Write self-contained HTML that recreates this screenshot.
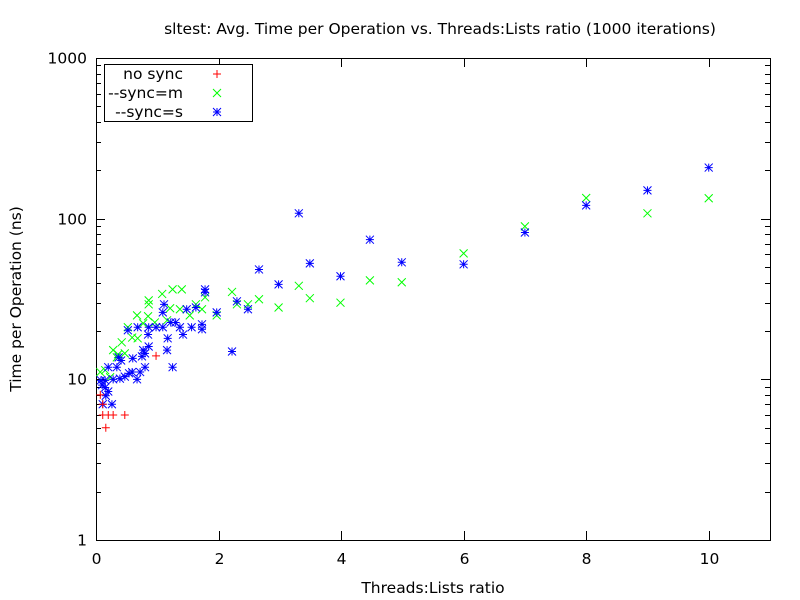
<!DOCTYPE html>
<html><head><meta charset="utf-8"><style>
html,body{margin:0;padding:0;background:#fff;}
svg{display:block;font-family:"DejaVu Sans","Liberation Sans",sans-serif;}
</style></head><body>
<svg id="chart" width="800" height="600" viewBox="0 0 800 600" xmlns="http://www.w3.org/2000/svg">
<rect x="0" y="0" width="800" height="600" fill="#fff"/>
<text x="440" y="34" font-size="15.5" text-anchor="middle">sltest: Avg. Time per Operation vs. Threads:Lists ratio (1000 iterations)</text>
<text x="433" y="593" font-size="15.5" text-anchor="middle">Threads:Lists ratio</text>
<text transform="translate(21,299) rotate(-90)" font-size="15.5" text-anchor="middle">Time per Operation (ns)</text>
<g id="axes"></g>
<g id="marks"></g>
<g id="legend">
<rect x="104.5" y="64.5" width="148" height="57" fill="#fff" stroke="#000" stroke-width="1"/>
<text x="183" y="79" font-size="15.5" text-anchor="end">no sync</text>
<text x="183" y="98" font-size="15.5" text-anchor="end">--sync=m</text>
<text x="183" y="117" font-size="15.5" text-anchor="end">--sync=s</text>
</g>
</svg>
<script>
const xTicks = [0, 2, 4, 6, 8, 10];
const yTicks = [1, 10, 100, 1000];
const seriesNames = ["no sync", "--sync=m", "--sync=s"];
const noSyncX = [0.07,0.11,0.11,0.2,0.28,0.47,0.16,0.98];
const noSyncY = [8,7,6,6,6,6,5,14];
const syncMX = [1.25,1.4,0.86,0.86,1.08,1.63,1.78,2.22,2.3,1.21,1.37,1.73,1.97,0.67,0.85,1.16,0.96,1.53,0.52,0.77,0.59,0.68,0.42,0.28,0.36,0.47,0.07,0.23,0.34,0.15,2.48,2.66,2.98,3.31,3.49,3.99,4.47,4.99,6,7,8,9,10];
const syncMY = [36.3,36.3,31,29.3,34,29.3,32.4,35,29.3,27.7,27.3,27.3,25,25,24.7,23.3,22.6,25,21.1,22.3,18.2,18,17,15.2,14.3,14.5,11.1,10.3,13.7,11.4,29.3,31.5,28,38.2,32,30,41.3,40.2,60.8,89.5,134.5,108,134];
const syncSX = [3.31,4.47,2.66,2.98,3.49,3.99,4.99,6,7,8,9,10,1.78,1.97,2.3,2.48,2.22,1.73,1.78,1.11,1.09,1.48,1.63,1.22,1.3,1.37,1.42,1.56,1.73,0.52,0.68,0.86,0.98,1.09,0.85,1.17,0.86,1.16,1.25,0.77,0.8,0.75,0.6,0.41,0.37,0.34,0.2,0.8,0.72,0.59,0.54,0.47,0.39,0.28,0.15,0.08,0.67,0.1,0.15,0.2,0.16,0.11,0.26];
const syncSY = [108,74,48.3,39,52.7,43.8,53.5,52,82,121,150,208,34.8,26.1,30.6,27.3,14.9,20.5,36.3,29.3,26.1,27.3,28,22.6,22.6,21.1,19,21.1,22,20.2,21.1,21.1,21.1,21.1,19,18,16,15.2,11.9,15.2,14.5,13.9,13.5,13.1,13.7,11.9,11.9,11.9,11.1,11.1,10.9,10.4,10.1,10,9.86,9.86,10,9.2,8.9,8.4,7.9,7,7];

const L=96, R=770, T=58, B=540, XMAX=11;
const sx = v => L + v/XMAX*(R-L);
const sy = v => B - Math.log10(v)/3*(B-T);
const NS="http://www.w3.org/2000/svg";
function mk(tag, attrs, parent){const e=document.createElementNS(NS,tag);for(const k in attrs)e.setAttribute(k,attrs[k]);parent.appendChild(e);return e;}
const axes=document.getElementById('axes');
const frame=mk('rect',{x:L+0.5,y:T+0.5,width:R-L,height:B-T,fill:'none',stroke:'#000','stroke-width':1},axes);


xTicks.forEach(t=>{
  const x=Math.round(sx(t))+0.5;
  const l=mk('path',{d:`M${x},${B}v-9M${x},${T}v9`,stroke:'#000','stroke-width':1},axes);
  
  
  const tx=mk('text',{x:x,y:B+24,'font-size':15.5,'text-anchor':'middle'},axes);
  tx.textContent=t;
  
  
});
yTicks.forEach((t,i)=>{
  const y=Math.round(sy(t))+0.5;
  const l=mk('path',{d:`M${L},${y}h9M${R},${y}h-9`,stroke:'#000','stroke-width':1},axes);
  
  
  const tx=mk('text',{x:L-9,y:y+5,'font-size':15.5,'text-anchor':'end'},axes);
  tx.textContent=t;
  
  
  if(i<yTicks.length-1){for(let m=2;m<=9;m++){
    const my=Math.round(sy(t*m))+0.5;
    const ml=mk('path',{d:`M${L},${my}h5M${R},${my}h-5`,stroke:'#000','stroke-width':1},axes);
    
    
  }}
});
const marks=document.getElementById('marks');
const s=4;
function plus(x,y){return `M${x-s},${y}h${2*s}M${x},${y-s}v${2*s}`;}
function cross(x,y){return `M${x-s},${y-s}l${2*s},${2*s}M${x-s},${y+s}l${2*s},${-2*s}`;}
function drawSeries(xs,ys,shape,color,name){
  xs.forEach((v,i)=>{
    const p=mk('path',{d:shape(sx(v),sy(ys[i])),stroke:color,'stroke-width':1,fill:'none'},marks);
    
    
  });
}
const star=(x,y)=>plus(x,y)+cross(x,y);
drawSeries(syncMX,syncMY,cross,'#00ff00','point-sync-m');
drawSeries(syncSX,syncSY,star,'#0000ff','point-sync-s');
drawSeries(noSyncX,noSyncY,plus,'#ff0000','point-no-sync');
const lg=document.getElementById('legend');
[[plus,'#ff0000',74],[cross,'#00ff00',93],[star,'#0000ff',112]].forEach((a,i)=>{
  const p=mk('path',{d:a[0](217,a[2]),stroke:a[1],'stroke-width':1,fill:'none'},lg);
  
  
});
</script>
</body></html>
